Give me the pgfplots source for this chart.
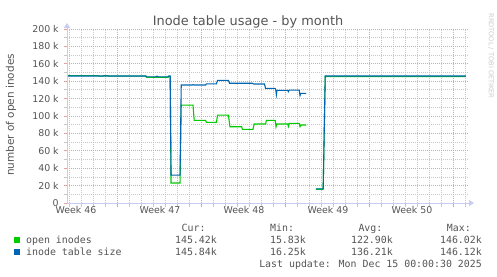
\documentclass[border=0pt]{standalone}
\usepackage{pgfplots}
\pgfplotsset{compat=1.18}
\usetikzlibrary{arrows.meta}
\usepackage{fontspec}
\setmainfont{DejaVu Sans}
\newfontfamily\monofont{DejaVu Sans Mono}
\definecolor{cgreen}{HTML}{00CC00}
\definecolor{cblue}{HTML}{0066B3}
\definecolor{mgrid}{HTML}{E6A0A0}
\definecolor{ngrid}{HTML}{C8C8C8}
\definecolor{axiscol}{HTML}{C8CCF4}
\definecolor{txt}{HTML}{555555}
\definecolor{wm}{HTML}{CCCCCC}
\begin{document}
\begin{tikzpicture}[x=1bp,y=1bp]
\path[use as bounding box, fill=white] (0,0) rectangle (497,276);
\begin{axis}[
  at={(67bp,73bp)}, anchor=south west,
  scale only axis, width=401bp, height=174bp,
  xmin=0, xmax=33.42, ymin=0, ymax=200000,
  scaled y ticks=false, scaled x ticks=false,
  axis x line=bottom, axis y line=left, axis line style={draw=none},
  xtick={4.17,11.17,18.17,25.17,32.17}, xticklabels={},
  minor xtick={0.17,1.17,2.17,3.17,5.17,6.17,7.17,8.17,9.17,10.17,12.17,13.17,14.17,15.17,16.17,17.17,19.17,20.17,21.17,22.17,23.17,24.17,26.17,27.17,28.17,29.17,30.17,31.17,33.17},
  extra x ticks={0.75,7.75,14.75,21.75,28.75},
  extra x tick labels={Week 46,Week 47,Week 48,Week 49,Week 50},
  extra x tick style={grid=none, major tick length=0pt},
  ytick={0,20000,40000,60000,80000,100000,120000,140000,160000,180000,200000},
  yticklabels={{0\hspace{6bp}},20 k,40 k,60 k,80 k,100 k,120 k,140 k,160 k,180 k,200 k},
  minor ytick={10000,30000,50000,70000,90000,110000,130000,150000,170000,190000},
  grid=both,
  major grid style={mgrid, dash pattern=on 1bp off 1bp, line width=0.8bp},
  minor grid style={ngrid, dash pattern=on 1bp off 1bp, line width=0.8bp},
  tick align=outside,
  major tick length=3.5bp, minor tick length=3.5bp,
  major tick style={mgrid, line width=0.8bp},
  minor tick style={ngrid, line width=0.8bp},
  ticklabel style={font=\fontsize{9.4bp}{11bp}\selectfont, text=txt, inner sep=0pt},
  yticklabel style={xshift=-4.6bp},
  xticklabel style={yshift=-3.1bp},
  /pgf/number format/assume math mode=true,
  unbounded coords=jump,
]
\addplot[cgreen, line width=1.1bp] coordinates {
(0,146400)(2.6,146400)(2.65,145800)(3.0,145800)(3.05,146400)(3.42,146400)(3.47,145800)(6.58,145800)(6.62,144500)(8.42,144500)(8.5,145800)(8.6,145800)(8.67,23000)(9.42,23000)(9.52,112500)(10.5,112500)(10.6,95000)(11.55,95000)(11.62,92700)(12.45,92700)(12.55,101000)(13.45,101000)(13.58,87700)(14.55,87700)(14.62,84700)(15.5,84700)(15.6,90800)(16.55,90800)(16.62,95000)(17.35,95000)(17.42,87500)(17.48,90800)(18.4,90800)(18.45,88000)(18.52,91600)(19.35,91600)(19.42,87700)(19.48,89700)(19.92,89700)(19.93,nan)(20.75,15800)(21.35,15800)(21.52,145400)(33.25,145400)
};
\addplot[cblue, line width=1.1bp] coordinates {
(0,146000)(6.58,146000)(6.62,145000)(7.4,145000)(7.5,145800)(7.6,145000)(8.42,145000)(8.5,146200)(8.6,146200)(8.67,32000)(9.42,32000)(9.52,135600)(10.45,135600)(10.5,136100)(10.6,135600)(11.55,135600)(11.62,137000)(12.45,137000)(12.55,141000)(13.45,141000)(13.55,137600)(15.45,137600)(15.55,136800)(16.45,136800)(16.55,131800)(17.35,131800)(17.4,130000)(17.45,124500)(17.5,129500)(18.4,129500)(18.45,128000)(18.52,129800)(19.35,129800)(19.42,123500)(19.48,126000)(19.92,126000)(19.93,nan)(20.75,16300)(21.35,16300)(21.52,146000)(33.25,146000)
};
\end{axis}
\draw[axiscol, line width=1bp, -{Triangle[length=5bp,width=6bp]}] (67,73) -- (474,73);
\draw[axiscol, line width=1bp, -{Triangle[length=5bp,width=6bp]}] (67,73) -- (67,253);
\node[anchor=base, inner sep=0, text=txt, font=\fontsize{12.9bp}{15bp}\selectfont] at (248,251) {Inode table usage - by month};
\node[rotate=90, inner sep=0, text=txt, font=\fontsize{10.5bp}{12bp}\selectfont] at (11,161) {number of open inodes};
\node[rotate=-90, inner sep=0, text=wm, font=\fontsize{6.6bp}{8bp}\selectfont] at (491,220) {RRDTOOL / TOBI OETIKER};
\begin{scope}[every node/.style={inner sep=0, text=txt, font=\monofont\fontsize{9.9bp}{12bp}\selectfont}]
\node[anchor=base west] at (181.5,44.3) {Cur:};
\node[anchor=base west] at (270,44.3) {Min:};
\node[anchor=base west] at (358.3,44.3) {Avg:};
\node[anchor=base west] at (446.7,44.3) {Max:};
\fill[cgreen] (14,32.7) rectangle (20,38.7);
\fill[cblue] (14,20.7) rectangle (20,26.7);
\node[anchor=base west] at (26,32.7) {open inodes};
\node[anchor=base west] at (26,20.3) {inode table size};
\node[anchor=base east] at (217,32.7) {145.42k};
\node[anchor=base east] at (306,32.7) {15.83k};
\node[anchor=base east] at (393,32.7) {122.90k};
\node[anchor=base east] at (482,32.7) {146.02k};
\node[anchor=base east] at (217,20.3) {145.84k};
\node[anchor=base east] at (306,20.3) {16.25k};
\node[anchor=base east] at (393,20.3) {136.21k};
\node[anchor=base east] at (482,20.3) {146.12k};
\node[anchor=base east] at (482,8.3) {Last update: Mon Dec 15 00:00:30 2025};
\end{scope}
\end{tikzpicture}
\end{document}
